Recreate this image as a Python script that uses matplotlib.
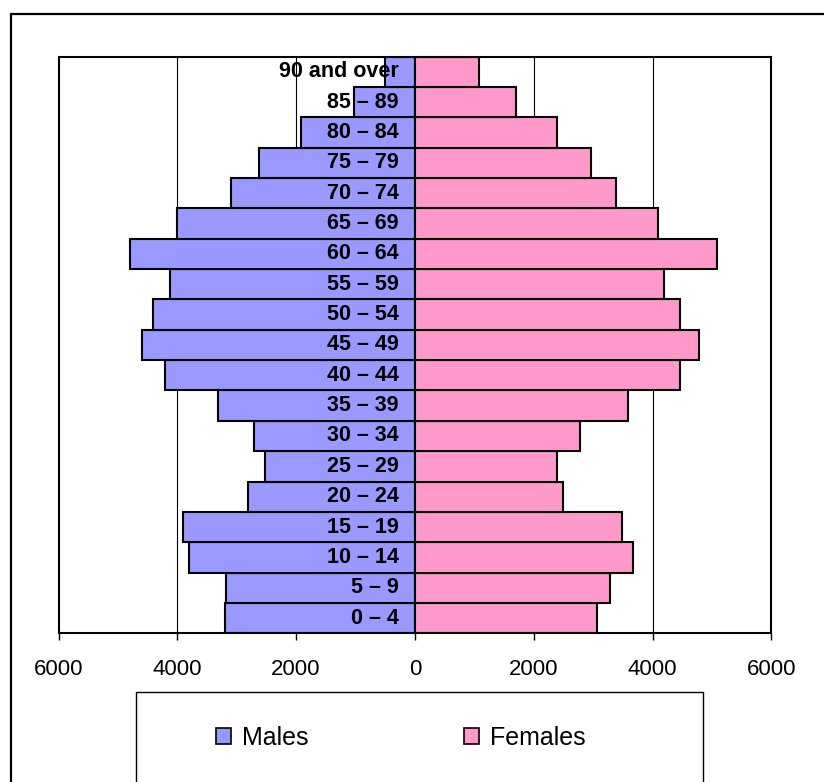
import matplotlib
matplotlib.use("Agg")
import matplotlib.pyplot as plt
from matplotlib.patches import Rectangle, Patch
from matplotlib.ticker import FuncFormatter

plt.rcParams['font.family'] = ['Liberation Sans', 'DejaVu Sans']

age_groups = ["0 \u2013 4", "5 \u2013 9", "10 \u2013 14", "15 \u2013 19", "20 \u2013 24",
              "25 \u2013 29", "30 \u2013 34", "35 \u2013 39", "40 \u2013 44", "45 \u2013 49",
              "50 \u2013 54", "55 \u2013 59", "60 \u2013 64", "65 \u2013 69", "70 \u2013 74",
              "75 \u2013 79", "80 \u2013 84", "85 \u2013 89", "90 and over"]
males = [3190, 3180, 3800, 3900, 2810, 2520, 2710, 3320, 4210, 4600,
         4410, 4120, 4800, 4000, 3100, 2620, 1920, 1020, 500]
females = [3070, 3290, 3670, 3480, 2490, 2400, 2780, 3580, 4470, 4780,
           4470, 4190, 5080, 4090, 3390, 2970, 2400, 1700, 1080]
x_ticks = [-6000, -4000, -2000, 0, 2000, 4000, 6000]

W, H = 824, 782
fig = plt.figure(figsize=(W / 100, H / 100), dpi=100)

# outer frame (clipped at right / bottom in reference)
fig.patches.append(Rectangle((11 / W, 1 - 900 / H), 900 / W, (900 - 14) / H,
                             transform=fig.transFigure, fill=False,
                             edgecolor='black', linewidth=1.6))

ax = fig.add_axes([58.5 / W, 1 - 633.3 / H, (771.3 - 58.5) / W, (633.3 - 56.5) / H])
ypos = list(range(len(age_groups)))
neg_males = [-m for m in males]
ax.barh(ypos, neg_males, height=1.0, color='#9999FF', edgecolor='black',
        linewidth=1.5, zorder=3, label='Males')
ax.barh(ypos, females, height=1.0, color='#FF99CC', edgecolor='black',
        linewidth=1.5, zorder=3, label='Females')

ax.set_xlim(-6000, 6000)
ax.set_ylim(-0.5, len(age_groups) - 0.5)
ax.set_xticks(x_ticks)
ax.xaxis.set_major_formatter(FuncFormatter(lambda v, p: f"{abs(int(v))}"))
ax.tick_params(axis='x', direction='out', length=5, width=1, labelsize=16, pad=13.5)
ax.set_yticks([])
for gx in [-4000, -2000, 2000, 4000]:
    ax.axvline(gx, color='black', linewidth=0.8, zorder=1)
for sp in ax.spines.values():
    sp.set_linewidth(1.5)
    sp.set_color('black')
    sp.set_zorder(5)

for yv, lab in zip(ypos, age_groups):
    ax.annotate(lab, xy=(0, yv), xytext=(-16, 0), textcoords='offset pixels',
                ha='right', va='center', fontsize=15.5, fontweight='bold', zorder=6)

# legend box
fig.patches.append(Rectangle((136.3 / W, 1 - 900 / H), (702.7 - 136.3) / W, (900 - 692) / H,
                             transform=fig.transFigure, fill=False,
                             edgecolor='black', linewidth=1.0))
handles = [Patch(facecolor='#9999FF', edgecolor='black', linewidth=1.2, label='Males'),
           Patch(facecolor='#FF99CC', edgecolor='black', linewidth=1.2, label='Females')]
fig.legend(handles=handles, loc='center left', bbox_to_anchor=(216 / W, 1 - 738 / H),
           ncol=2, frameon=False, fontsize=18, borderpad=0, borderaxespad=0,
           handlelength=0.6, handleheight=0.6, handletextpad=0.44, columnspacing=6.2)

fig.savefig("out.png", dpi=100)
